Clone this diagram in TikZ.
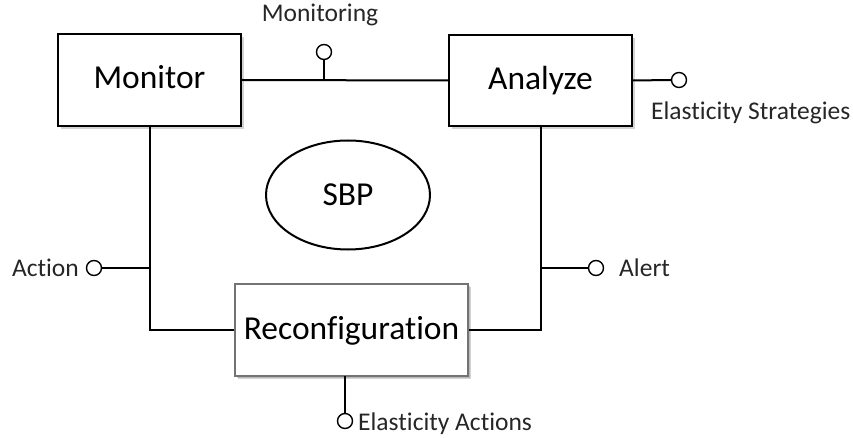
\documentclass[tikz,border=0pt]{standalone}
\usepackage{fontspec}
\setmainfont[Ligatures=NoCommon]{Carlito}
\usetikzlibrary{shadows,shapes.geometric}
\begin{document}
\begin{tikzpicture}[x=1pt,y=-1pt,
  blockbox/.style={draw=black,line width=2pt,fill=white,rectangle,
    drop shadow={shadow xshift=3pt,shadow yshift=-3pt,opacity=0.35},
    font=\fontsize{33.5}{38}\selectfont,inner sep=0pt,text height=21pt,text depth=3pt},
  lolli/.style={circle,draw=black,line width=1.4pt,fill=white,minimum size=15pt,inner sep=0pt},
  link/.style={line width=2pt,draw=black},
  lbl/.style={font=\fontsize{25.5}{30}\selectfont,inner sep=0pt,text=black!85}
]
\useasboundingbox (0,0) rectangle (853,438);
% blocks
\node[blockbox,minimum width=183pt,minimum height=92pt] (mon) at (149.5,80) {Monitor};
\node[blockbox,minimum width=183pt,minimum height=91pt] (ana) at (540.5,80.5) {Analyze};
\node[blockbox,draw=black!55,minimum width=233pt,minimum height=92pt,
  drop shadow={shadow xshift=2pt,shadow yshift=-2pt,opacity=0.3}] (rec) at (351.5,330) {Reconfiguration};
\node[ellipse,draw=black,line width=2pt,minimum width=164pt,minimum height=109pt,
  font=\fontsize{33.5}{38}\selectfont,inner sep=0pt,text height=21.5pt,text depth=0pt] (sbp) at (348,195) {SBP};
% connectors
\draw[link] (mon.east) -- (ana.west);
\draw[link] (mon.south) |- (rec.west);
\draw[link] (ana.south) |- (rec.east);
% lollipop points
\coordinate (pmon) at (324,80);
\coordinate (pact) at (149,268);
\coordinate (palt) at (541,268);
\coordinate (prec) at (345,376);
% lollipops
\node[lolli] (cmon) at (324,52) {};
\node[lolli] (cana) at (679,80) {};
\node[lolli] (cact) at (94,268) {};
\node[lolli] (calt) at (596,268) {};
\node[lolli] (crec) at (345,421) {};
\draw[link] (pmon) -- (cmon.south);
\draw[link] (ana.east) -- (cana.west);
\draw[link] (pact) -- (cact.east);
\draw[link] (palt) -- (calt.west);
\draw[link] (prec) -- (crec.north);
% labels
\node[lbl] (tmon) at (320,15) {Monitoring};
\node[lbl,anchor=west] (tana) at (651,113) {Elasticity Strategies};
\node[lbl,anchor=east] (tact) at (79,268) {Action};
\node[lbl,anchor=west] (talt) at (619,268) {Alert};
\node[lbl,anchor=west] (trec) at (358,424) {Elasticity Actions};
\end{tikzpicture}
\end{document}
